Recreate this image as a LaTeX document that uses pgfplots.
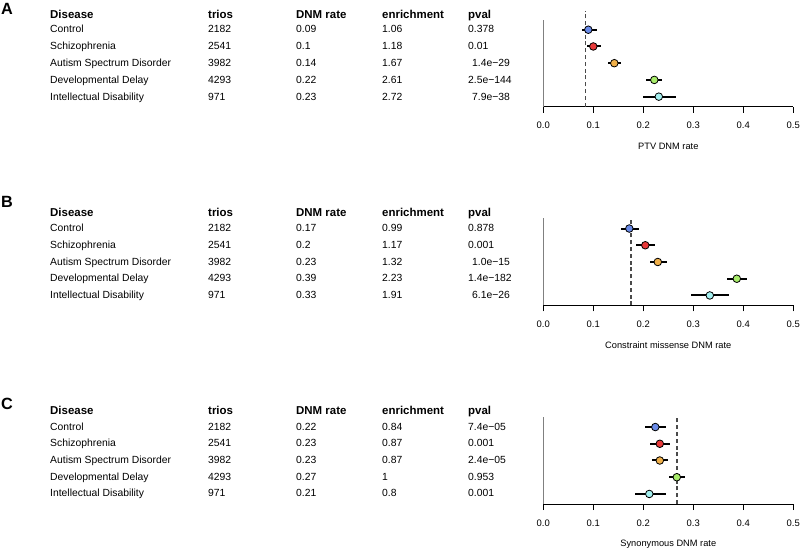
\documentclass[border=0pt]{standalone}
\usepackage{fontspec}
\setmainfont{Liberation Sans}
\usepackage{pgfplots}
\usepackage{pgfplotstable}
\pgfplotsset{compat=1.18}

\definecolor{cblue}{HTML}{6A8BE8}
\definecolor{cred}{HTML}{E83A3A}
\definecolor{corange}{HTML}{F0B04A}
\definecolor{cgreen}{HTML}{A8EC6A}
\definecolor{ccyan}{HTML}{A4F0F0}
\definecolor{dashcol}{HTML}{4A4A4A}

% y: 5 = Control ... 1 = Intellectual Disability
\pgfplotstableread{
y x lo hi c
5 0.090 0.077 0.107 a
4 0.100 0.088 0.115 b
3 0.142 0.129 0.155 c
2 0.222 0.205 0.238 d
1 0.231 0.200 0.265 e
}\ptvdata
\pgfplotstableread{
y x lo hi c
5 0.172 0.155 0.192 a
4 0.204 0.185 0.223 b
3 0.229 0.213 0.247 c
2 0.387 0.368 0.408 d
1 0.333 0.296 0.372 e
}\misdata
\pgfplotstableread{
y x lo hi c
5 0.224 0.203 0.246 a
4 0.233 0.213 0.253 b
3 0.233 0.217 0.249 c
2 0.267 0.251 0.284 d
1 0.212 0.183 0.245 e
}\syndata

\pgfplotsset{
  forest/.style={
    scale only axis, width=250bp, height=87bp, anchor=south west,
    xmin=0, xmax=0.5, ymin=0.4, ymax=5.6, clip=false,
    axis x line*=bottom, axis y line*=left,
    ytick=\empty,
    xtick={0,0.1,0.2,0.3,0.4,0.5},
    xticklabels={0.0,0.1,0.2,0.3,0.4,0.5},
    xtick align=outside, major tick length=6bp,
    x axis line style={-, black, line width=0.9bp},
    y axis line style={-, gray, line width=1.1bp},
    xtick style={black, line width=0.9bp},
    /pgf/number format/assume math mode=true,
    ticklabel style={font=\fontsize{9.5}{11}\selectfont},
    xticklabel style={yshift=-6bp},
    xlabel style={font=\fontsize{9.3}{11}\selectfont, at={(axis description cs:0.5,0)}, anchor=base, yshift=-42.7bp},
  },
  ci/.style={black, only marks, mark=none, forget plot,
    error bars/.cd, x dir=both, x explicit, error mark=none,
    error bar style={line width=2bp, black}},
  pts/.style={scatter, only marks, mark=*, mark size=3.8bp,
    point meta=explicit symbolic,
    scatter/classes={
      a={mark=*, fill=cblue, draw=black, line width=0.8bp},
      b={mark=*, fill=cred, draw=black, line width=0.8bp},
      c={mark=*, fill=corange, draw=black, line width=0.8bp},
      d={mark=*, fill=cgreen, draw=black, line width=0.8bp},
      e={mark=*, fill=ccyan, draw=black, line width=0.8bp}}},
  refline/.style={dashcol, line width=1.4bp, dash pattern=on 4bp off 2.8bp},
}

\tikzset{
  tab/.style={anchor=base west, inner sep=0pt, font=\fontsize{10.4}{12}\selectfont},
  hdr/.style={anchor=base west, inner sep=0pt, font=\fontsize{11.5}{13}\selectfont\bfseries},
  letter/.style={anchor=base west, inner sep=0pt, font=\fontsize{16.3}{18}\selectfont\bfseries},
}

% #1 = baseline in pixels from the top
\newcommand{\hrow}[1]{%
  \node[hdr] at (50bp,550bp-#1bp) {Disease};
  \node[hdr] at (208bp,550bp-#1bp) {trios};
  \node[hdr] at (296bp,550bp-#1bp) {DNM rate};
  \node[hdr] at (382bp,550bp-#1bp) {enrichment};
  \node[hdr] at (468bp,550bp-#1bp) {pval};}
\newcommand{\trow}[7]{%
  \node[tab] at (50bp,550bp-#1bp) {#2};
  \node[tab] at (208bp,550bp-#1bp) {#3};
  \node[tab] at (296bp,550bp-#1bp) {#4};
  \node[tab] at (382bp,550bp-#1bp) {#5};
  \node[tab] at (#7bp,550bp-#1bp) {#6};}

\begin{document}
\begin{tikzpicture}
\path[use as bounding box] (0,0) rectangle (800bp,550bp);

% ---------- A ----------
\node[letter] at (1bp,550bp-14.8bp) {A};
\hrow{18.1}
\trow{33.0}{Control}{2182}{0.09}{1.06}{0.378}{468}
\trow{49.7}{Schizophrenia}{2541}{0.1}{1.18}{0.01}{468}
\trow{66.4}{Autism Spectrum Disorder}{3982}{0.14}{1.67}{1.4e−29}{472}
\trow{83.7}{Developmental Delay}{4293}{0.22}{2.61}{2.5e−144}{468}
\trow{100.4}{Intellectual Disability}{971}{0.23}{2.72}{7.9e−38}{472}

\begin{axis}[forest, at={(543.3bp,443.3bp)}, xlabel={PTV DNM rate}]
  \addplot[refline] coordinates {(0.0847,0.4) (0.0847,6.1)};
  \addplot[ci] table[x=x, y=y, x error plus expr=\thisrow{hi}-\thisrow{x}, x error minus expr=\thisrow{x}-\thisrow{lo}] {\ptvdata};
  \addplot[pts] table[x=x, y=y, meta=c] {\ptvdata};
\end{axis}

% ---------- B ----------
\node[letter] at (1bp,550bp-207.8bp) {B};
\hrow{216.4}
\trow{231.4}{Control}{2182}{0.17}{0.99}{0.878}{468}
\trow{248.7}{Schizophrenia}{2541}{0.2}{1.17}{0.001}{468}
\trow{265.4}{Autism Spectrum Disorder}{3982}{0.23}{1.32}{1.0e−15}{472}
\trow{282.0}{Developmental Delay}{4293}{0.39}{2.23}{1.4e−182}{468}
\trow{298.7}{Intellectual Disability}{971}{0.33}{1.91}{6.1e−26}{472}

\begin{axis}[forest, at={(543.3bp,244.5bp)}, xlabel={Constraint missense DNM rate}]
  \addplot[refline] coordinates {(0.175,0.4) (0.175,5.6)};
  \addplot[ci] table[x=x, y=y, x error plus expr=\thisrow{hi}-\thisrow{x}, x error minus expr=\thisrow{x}-\thisrow{lo}] {\misdata};
  \addplot[pts] table[x=x, y=y, meta=c] {\misdata};
\end{axis}

% ---------- C ----------
\node[letter] at (1bp,550bp-409.1bp) {C};
\hrow{414.1}
\trow{430.4}{Control}{2182}{0.22}{0.84}{7.4e−05}{468}
\trow{447.0}{Schizophrenia}{2541}{0.23}{0.87}{0.001}{468}
\trow{463.7}{Autism Spectrum Disorder}{3982}{0.23}{0.87}{2.4e−05}{468}
\trow{480.4}{Developmental Delay}{4293}{0.27}{1}{0.953}{468}
\trow{497.0}{Intellectual Disability}{971}{0.21}{0.8}{0.001}{468}

\begin{axis}[forest, at={(543.3bp,46bp)}, xlabel={Synonymous DNM rate}]
  \addplot[refline] coordinates {(0.267,0.4) (0.267,5.6)};
  \addplot[ci] table[x=x, y=y, x error plus expr=\thisrow{hi}-\thisrow{x}, x error minus expr=\thisrow{x}-\thisrow{lo}] {\syndata};
  \addplot[pts] table[x=x, y=y, meta=c] {\syndata};
\end{axis}
\end{tikzpicture}
\end{document}
